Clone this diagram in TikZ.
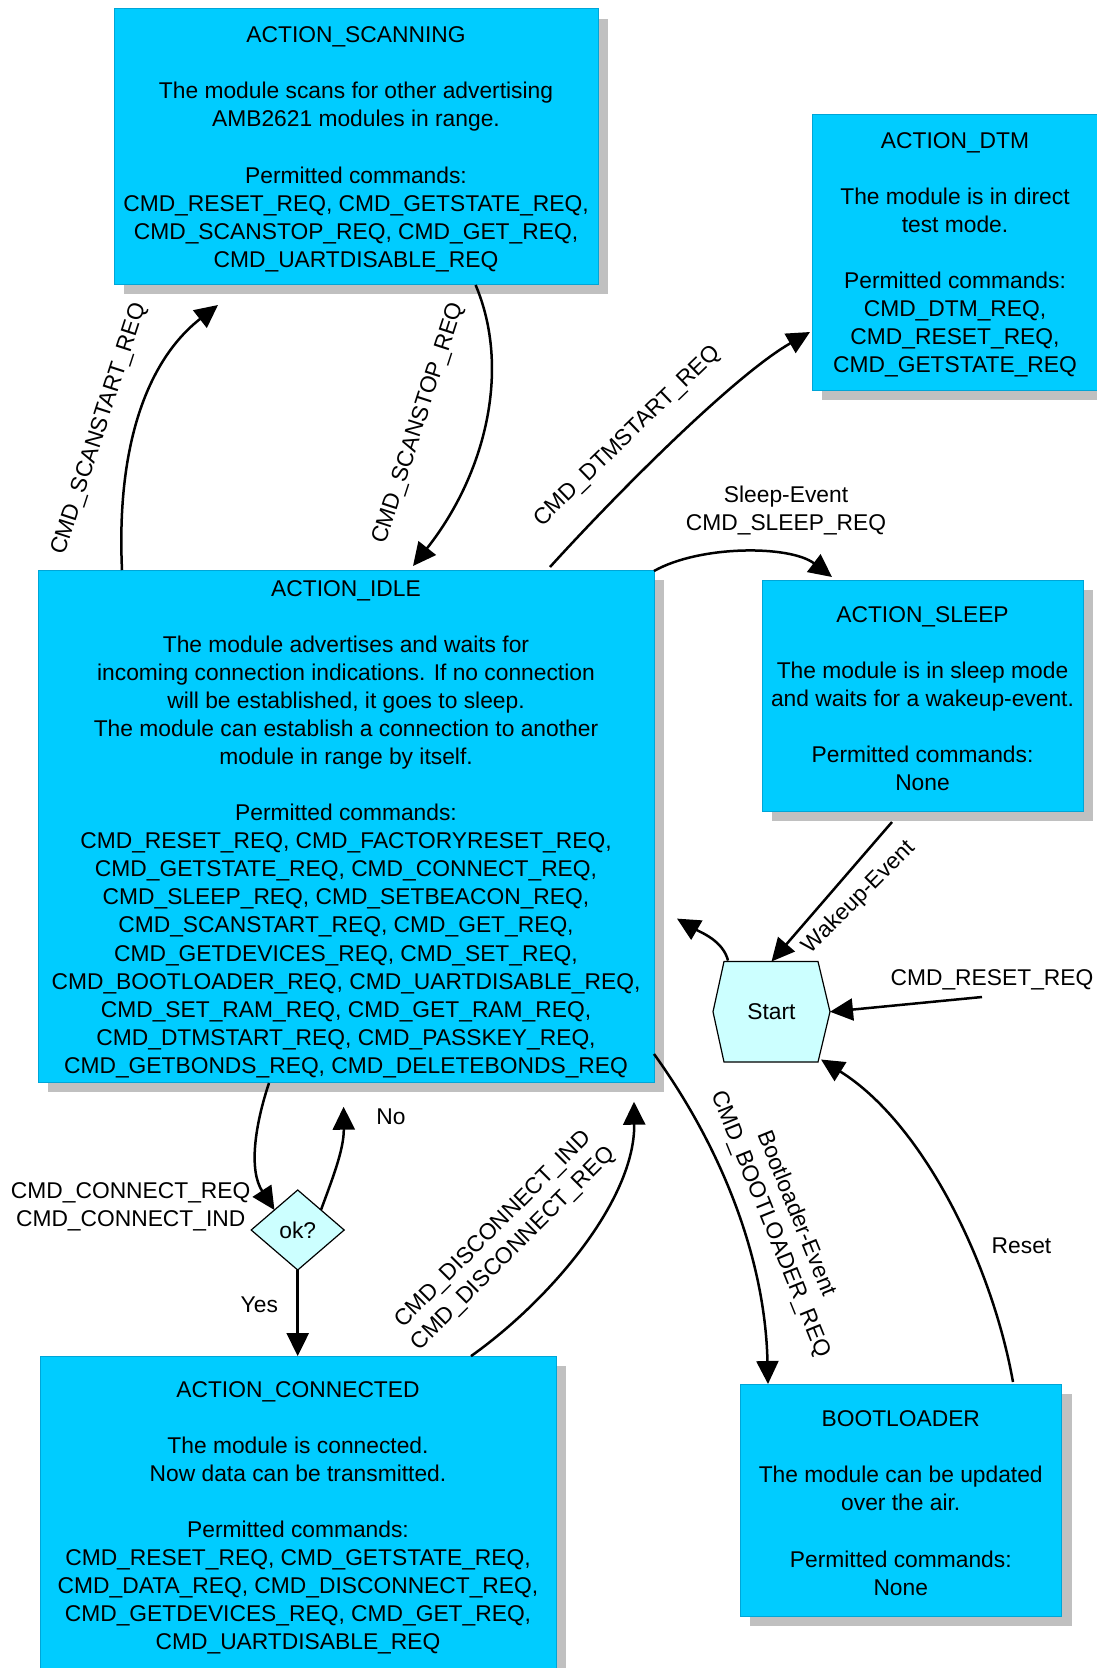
\documentclass[tikz,border=0pt]{standalone}
\usepackage{fontspec}
\setmainfont{Liberation Sans}
\usetikzlibrary{arrows.meta,calc,shapes.geometric,shadows}
\definecolor{boxfill}{RGB}{0,204,255}
\definecolor{boxline}{RGB}{0,165,215}
\definecolor{lightfill}{RGB}{204,255,255}
\definecolor{shadowgray}{RGB}{192,192,192}
\newcommand{\topstrut}{\rule{0pt}{22.1pt}}
\begin{document}
\begin{tikzpicture}[x=1pt,y=-1pt,
  every node/.style={font=\fontsize{22.8}{28.05}\selectfont, inner sep=0pt, outer sep=0pt},
  statebox/.style={rectangle, fill=boxfill, draw=boxline, line width=1pt, align=center,
    general shadow={fill=shadowgray, shadow xshift=10pt, shadow yshift=-10pt}},
  arrowline/.style={line width=2.5pt, -{Triangle[length=23pt,width=22pt]}},
  lbl/.style={align=center},
]
\useasboundingbox (0,0) rectangle (1097,1668);
\clip (0,0) rectangle (1097,1668);

% ---------- states ----------
\node[statebox, minimum width=484pt, minimum height=275.5pt] (scan) at (356,146.25)
 {\topstrut ACTION\_SCANNING\\[28.05pt]
  The module scans for other advertising\\
  AMB2621 modules in range.\\[28.05pt]
  Permitted commands:\\
  CMD\_RESET\_REQ, CMD\_GETSTATE\_REQ,\\
  CMD\_SCANSTOP\_REQ, CMD\_GET\_REQ,\\
  CMD\_UARTDISABLE\_REQ};

\node[statebox, minimum width=286pt, minimum height=276pt] (dtm) at (955,252)
 {\topstrut ACTION\_DTM\\[28.05pt]
  The module is in direct\\
  test mode.\\[28.05pt]
  Permitted commands:\\
  CMD\_DTM\_REQ,\\
  CMD\_RESET\_REQ,\\
  CMD\_GETSTATE\_REQ};

\node[statebox, minimum width=616pt, minimum height=512pt] (idle) at (346,826)
 {\topstrut ACTION\_IDLE\\[28.05pt]
  The module advertises and waits for\\
  incoming connection indications. If no connection\\
  will be established, it goes to sleep.\\
  The module can establish a connection to another\\
  module in range by itself.\\[28.05pt]
  Permitted commands:\\
  CMD\_RESET\_REQ, CMD\_FACTORYRESET\_REQ,\\
  CMD\_GETSTATE\_REQ, CMD\_CONNECT\_REQ,\\
  CMD\_SLEEP\_REQ, CMD\_SETBEACON\_REQ,\\
  CMD\_SCANSTART\_REQ, CMD\_GET\_REQ,\\
  CMD\_GETDEVICES\_REQ, CMD\_SET\_REQ,\\
  CMD\_BOOTLOADER\_REQ, CMD\_UARTDISABLE\_REQ,\\
  CMD\_SET\_RAM\_REQ, CMD\_GET\_RAM\_REQ,\\
  CMD\_DTMSTART\_REQ, CMD\_PASSKEY\_REQ,\\
  CMD\_GETBONDS\_REQ, CMD\_DELETEBONDS\_REQ};

\node[statebox, minimum width=321pt, minimum height=231pt] (sleep) at (922.5,695.5)
 {\topstrut ACTION\_SLEEP\\[28.05pt]
  The module is in sleep mode\\
  and waits for a wakeup-event.\\[28.05pt]
  Permitted commands:\\
  None};

\node[statebox, minimum width=516pt, minimum height=317pt] (connected) at (298,1514.6)
 {\topstrut ACTION\_CONNECTED\\[28.05pt]
  The module is connected.\\
  Now data can be transmitted.\\[28.05pt]
  Permitted commands:\\
  CMD\_RESET\_REQ, CMD\_GETSTATE\_REQ,\\
  CMD\_DATA\_REQ, CMD\_DISCONNECT\_REQ,\\
  CMD\_GETDEVICES\_REQ, CMD\_GET\_REQ,\\
  CMD\_UARTDISABLE\_REQ};

\node[statebox, minimum width=321.5pt, minimum height=232pt] (boot) at (900.75,1500)
 {\topstrut BOOTLOADER\\[28.05pt]
  The module can be updated\\
  over the air.\\[28.05pt]
  Permitted commands:\\
  None};

% start hexagon
\path[fill=lightfill, draw=black, line width=1.2pt]
  (713,1011.75) -- (724,961.5) -- (818,961.5) -- (830,1011.75) -- (818,1062) -- (724,1062) -- cycle;
\node[minimum width=117pt, minimum height=100.5pt] (start) at (771.5,1011.75) {Start};

% decision
\node[diamond, draw=black, fill=lightfill, line width=1.2pt,
      minimum width=93pt, minimum height=80pt] (ok) at (297.7,1230) {ok?};

% ---------- connectors ----------
\draw[arrowline] ($(idle.north west)+(84,0)$) .. controls +(-6,-130) and +(-68,53) .. ($(scan.south west)+(104,21)$);
\node[rotate=72] (lscanstart) at (99.8,429.2) {CMD\_SCANSTART\_REQ};

\draw[arrowline] ($(scan.south west)+(361.6,1)$) .. controls +(36,85) and +(72,-91) .. ($(idle.north west)+(375,-4)$);
\node[rotate=72] (lscanstop) at (419,423.5) {CMD\_SCANSTOP\_REQ};

\draw[arrowline] ($(idle.north west)+(512,-3)$) .. controls +(70,-77) and +(-75,43) .. ($(dtm.south west)+(-2,-58)$);
\node[rotate=44] (ldtm) at (627.5,436.7) {CMD\_DTMSTART\_REQ};

\draw[arrowline] ($(idle.north east)+(0,1)$) .. controls +(46,-26) and +(-42,-32) .. ($(sleep.north west)+(70,-3)$);
\node[lbl] (lsleep) at (786,510.5) {Sleep-Event\\CMD\_SLEEP\_REQ};

\draw[arrowline] ($(sleep.south west)+(130,11)$) -- (start.north);
\node[rotate=45] (lwake) at (859,897.5) {Wakeup-Event};

\draw[arrowline] ($(start.north west)+(15,-1)$) .. controls +(-5,-20) and +(23,13.4) .. ($(idle.south east)+(23,-163.4)$);

\coordinate (resetin) at (982,997);
\draw[arrowline] (resetin) -- (start.east);
\node (lresetreq) at (992,980) {CMD\_RESET\_REQ};

\draw[arrowline] ($(boot.north west)+(273,-2)$) .. controls +(-21,-118) and +(102,63.6) .. ($(start.south east)+(-9,-2.5)$);
\node (lreset) at (1021.5,1246) {Reset};

\draw[arrowline] ($(idle.south east)+(0,-28)$) .. controls +(64.4,89.1) and +(-3,-130) .. ($(boot.north west)+(28,0)$);
\node[lbl, rotate=-68] (lboot) at (783,1219) {Bootloader-Event\\CMD\_BOOTLOADER\_REQ};

\draw[arrowline] ($(idle.south west)+(231,1)$) .. controls +(-14,42) and +(-26,-40) .. (ok.north west);
\node[lbl] (lconnect) at (130.7,1207) {CMD\_CONNECT\_REQ\\CMD\_CONNECT\_IND};

\draw[arrowline] (ok.north east) .. controls +(11,-30) and +(0.4,43) .. ($(idle.south west)+(305.6,24.7)$);
\node (lno) at (390.9,1116.7) {No};

\draw[arrowline] (ok.south) -- (ok.south |- connected.north);
\node (lyes) at (259.3,1305) {Yes};

\draw[arrowline] ($(connected.north west)+(431,0)$) .. controls +(79,-56) and +(1,98.3) .. ($(idle.south west)+(596,19.7)$);
\node[lbl, rotate=45] (ldisc) at (503.6,1239.5) {CMD\_DISCONNECT\_IND\\CMD\_DISCONNECT\_REQ};
\end{tikzpicture}
\end{document}
